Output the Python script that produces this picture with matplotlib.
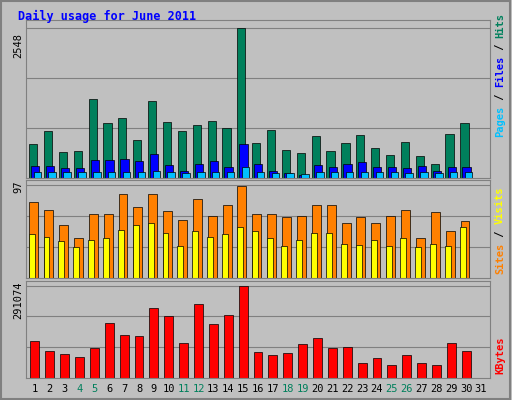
import numpy as np
import matplotlib
matplotlib.use("Agg")
import matplotlib.pyplot as plt

days = list(range(1, 32))
weekend = [4, 5, 11, 12, 18, 19, 25, 26]
hits = [568, 792, 448, 465, 1343, 930, 1016, 637, 1308, 947, 792, 895, 964, 844, 2548,
        585, 809, 482, 430, 706, 465, 585, 723, 516, 396, 603, 379, 241, 740, 930, 0]
files = [207, 207, 172, 172, 310, 310, 327, 293, 413, 224, 120, 241, 293, 189, 568,
         241, 120, 86, 52, 224, 189, 241, 275, 189, 189, 172, 207, 120, 189, 189, 0]
pages = [100, 100, 95, 95, 110, 105, 110, 100, 115, 100, 90, 100, 105, 95, 189,
         100, 90, 80, 70, 100, 95, 100, 105, 95, 95, 90, 100, 85, 95, 95, 0]
visits = [79, 71, 55, 42, 67, 67, 87, 74, 87, 70, 60, 82, 64, 76, 96,
          67, 67, 63, 64, 76, 76, 57, 63, 57, 64, 71, 42, 69, 49, 59, 0]
sites = [46, 43, 38, 32, 40, 42, 50, 55, 57, 47, 33, 49, 43, 46, 53,
         49, 42, 33, 39, 47, 47, 35, 34, 39, 33, 42, 32, 35, 33, 53, 0]
kbytes = [118, 86, 77, 67, 93, 173, 134, 131, 221, 195, 109, 234, 170, 198, 291,
          83, 74, 80, 106, 125, 93, 99, 48, 64, 42, 74, 48, 42, 109, 86, 0]
kbytes = [k * 1000 for k in kbytes]

W, H = 512, 400
fig = plt.figure(figsize=(W / 100, H / 100), dpi=100, facecolor="#C0C0C0")
fig.patches.append(plt.Rectangle((0.002, 0.003), 0.994, 0.994, transform=fig.transFigure,
                                 fill=False, edgecolor="#808080", lw=1.5))
mono = "DejaVu Sans Mono"
fig.text(18 / W, 1 - 16 / H, "Daily usage for June 2011", color="#0000FF",
         family=mono, fontweight="bold", fontsize=8.5, va="center")

def panel(y0, y1):
    ax = fig.add_axes([26 / W, 1 - y1 / H, 464 / W, (y1 - y0) / H])
    ax.set_facecolor("#C0C0C0")
    ax.set_xlim(0.4, 31.6)
    ax.set_xticks([])
    ax.set_yticks([])
    for s in ax.spines.values():
        s.set_color("#808080")
    return ax

x = np.array(days)
ax1 = panel(20, 178)
ax1.set_ylim(0, 2548 * 1.05)
for g in [2548 / 3, 2 * 2548 / 3, 2548]:
    ax1.axhline(g, color="#808080", lw=0.8, zorder=0)
ax1.bar(x - 0.12, hits, 0.55, color="#00805C", edgecolor="black", lw=0.5)
ax1.bar(x + 0.02, files, 0.55, color="#0000FF", edgecolor="black", lw=0.5)
ax1.bar(x + 0.16, pages, 0.5, color="#00C0FF", edgecolor="black", lw=0.5)
fig.text(18 / W, 1 - 45 / H, "2548", rotation=90, family=mono, fontsize=7.5, ha="center", va="center")

ax2 = panel(180, 278)
ax2.set_ylim(0, 97 * 1.05)
for g in [97 / 3, 2 * 97 / 3, 97]:
    ax2.axhline(g, color="#808080", lw=0.8, zorder=0)
ax2.bar(x - 0.08, visits, 0.6, color="#FF8000", edgecolor="black", lw=0.5)
ax2.bar(x - 0.22, sites, 0.4, color="#FFFF00", edgecolor="black", lw=0.5)
fig.text(18 / W, 1 - 187 / H, "97", rotation=90, family=mono, fontsize=7.5, ha="center", va="center")

ax3 = panel(281, 378)
ax3.set_ylim(0, 291074 * 1.05)
for g in [291074 / 3, 2 * 291074 / 3, 291074]:
    ax3.axhline(g, color="#808080", lw=0.8, zorder=0)
ax3.bar(x, kbytes, 0.6, color="#FF0000", edgecolor="black", lw=0.5)
fig.text(18 / W, 1 - 300 / H, "291074", rotation=90, family=mono, fontsize=7.5, ha="center", va="center")

for d in days:
    xf = (26 + (d - 0.4) / 31.2 * 464) / W
    fig.text(xf, 1 - 389 / H, str(d), ha="center", va="center", fontsize=7.5, family=mono,
             color="#00805C" if d in weekend else "black")

def side(y, parts):
    yy = y
    for txt, col in parts:
        t = fig.text(500 / W, 1 - yy / H, txt, rotation=90, color=col, family=mono,
                     fontsize=7.5, fontweight="bold", ha="center", va="bottom")
        yy -= len(txt) * 6.2

side(137, [("Pages", "#00C0FF"), (" / ", "black"), ("Files", "#0000FF"), (" / ", "black"), ("Hits", "#00805C")])
side(274, [("Sites", "#FF8000"), (" / ", "black"), ("Visits", "#FFFF00")])
side(374, [("KBytes", "#FF0000")])

fig.savefig("out.png", dpi=100, facecolor=fig.get_facecolor())
